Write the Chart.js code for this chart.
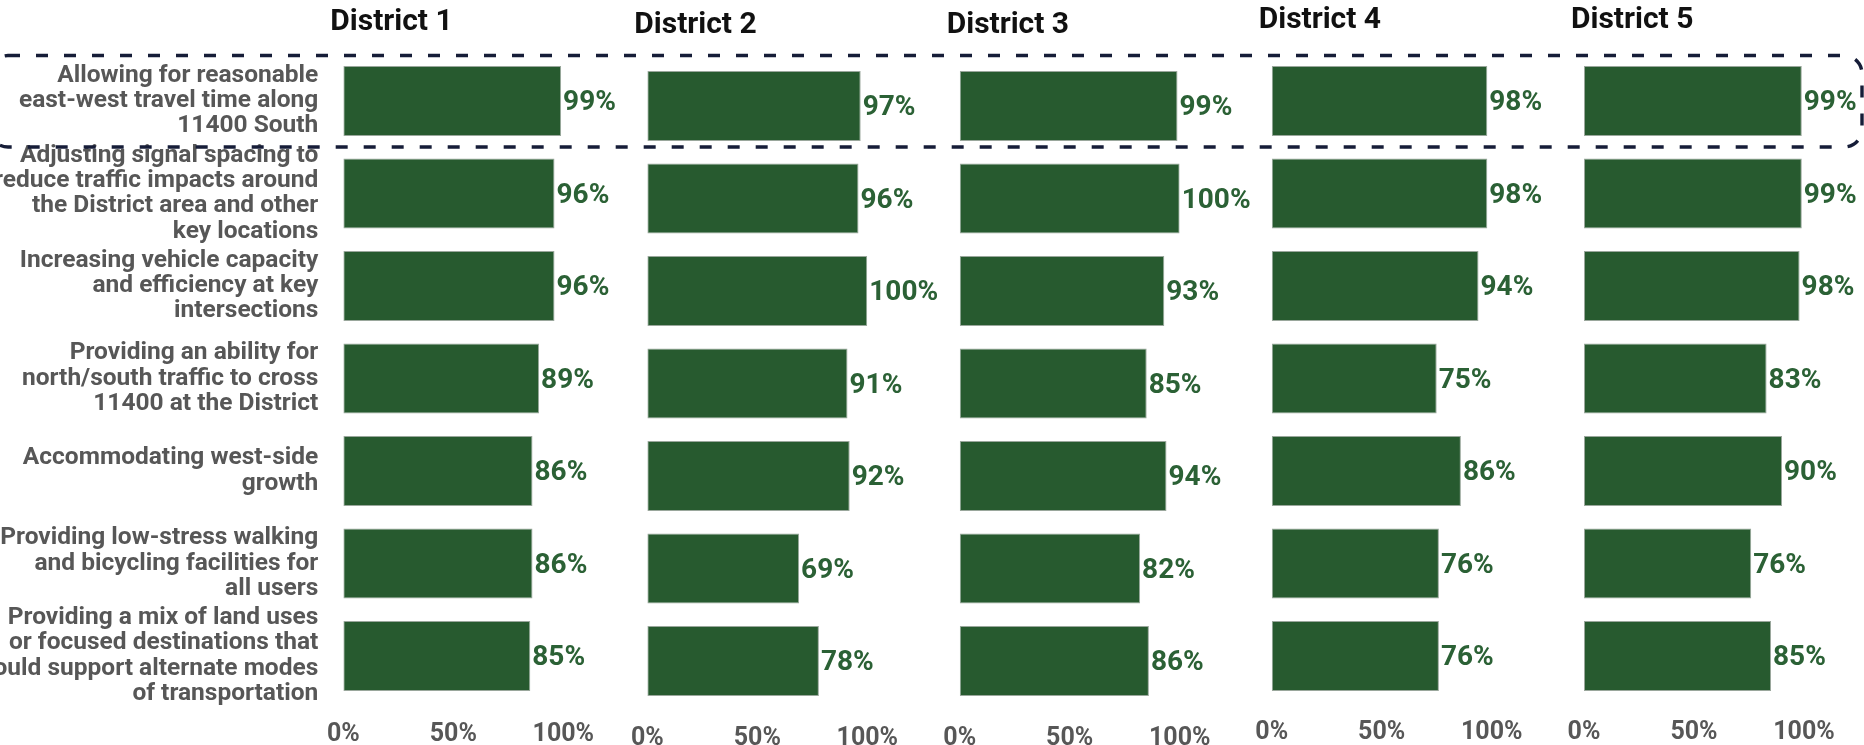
<!DOCTYPE html>
<html>
<head>
<meta charset="utf-8">
<title>District priorities</title>
<script src="https://cdn.jsdelivr.net/npm/chart.js@4.4.1/dist/chart.umd.min.js"></script>
<style>
  html, body { margin: 0; padding: 0; background: #fff; overflow: hidden; }
  #wrap { position: relative; width: 1864px; height: 745px; }
  #wrap canvas { position: absolute; left: 0; top: 0; }
</style>
</head>
<body>
<div id="wrap">
  <canvas id="d1" width="1864" height="745"></canvas>
  <canvas id="d2" width="1864" height="745"></canvas>
  <canvas id="d3" width="1864" height="745"></canvas>
  <canvas id="d4" width="1864" height="745"></canvas>
  <canvas id="d5" width="1864" height="745"></canvas>
</div>
<script>
// categories (wrapped the way they appear on the slide)
const categories = [
    ["Allowing for reasonable", "east-west travel time along", "11400 South"],
    ["Adjusting signal spacing to", "reduce traffic impacts around", "the District area and other", "key locations"],
    ["Increasing vehicle capacity", "and efficiency at key", "intersections"],
    ["Providing an ability for", "north/south traffic to cross", "11400 at the District"],
    ["Accommodating west-side", "growth"],
    ["Providing low-stress walking", "and bicycling facilities for", "all users"],
    ["Providing a mix of land uses", "or focused destinations that", "could support alternate modes", "of transportation"]
];

const districtNames = ["District 1", "District 2", "District 3", "District 4", "District 5"];

// percent of respondents, per district
const district1 = [99, 96, 96, 89, 86, 86, 85];
const district2 = [97, 96, 100, 91, 92, 69, 78];
const district3 = [99, 100, 93, 85, 94, 82, 86];
const district4 = [98, 98, 94, 75, 86, 76, 76];
const district5 = [99, 99, 98, 83, 90, 76, 85];

const tickValues = [0, 50, 100];

const BAR_GREEN = "#275a2f";
const TEXT_GREEN = "#2b6135";
const GREY = "#575757";
const FONT = "Roboto, 'Noto Sans', sans-serif";

// where each small chart sits on the page
const panels = [
    { id: "d1", name: districtNames[0], values: district1, left: 343.3, top: 54.75, titleY: 22.5, tickPad: 18.5 },
    { id: "d2", name: districtNames[1], values: district2, left: 647.3, top: 59.75, titleY: 25, tickPad: 18 },
    { id: "d3", name: districtNames[2], values: district3, left: 959.7, top: 59.75, titleY: 25, tickPad: 18 },
    { id: "d4", name: districtNames[3], values: district4, left: 1271.7, top: 54.75, titleY: 20.5, tickPad: 16.5 },
    { id: "d5", name: districtNames[4], values: district5, left: 1584, top: 54.75, titleY: 20.5, tickPad: 16.5 }
];
const PAGE_W = 1864;
const PAGE_H = 745;
const PANEL_W = 220;
const AREA_H = 647.5;

const valueLabels = {
    id: "valueLabels",
    afterDatasetsDraw(chart) {
        const ctx = chart.ctx;
        const ds = chart.data.datasets[0];
        ctx.save();
        ctx.font = "bold 28px " + FONT;
        ctx.fillStyle = TEXT_GREEN;
        ctx.textAlign = "left";
        ctx.textBaseline = "middle";
        chart.getDatasetMeta(0).data.forEach((bar, i) => {
            ctx.fillText(ds.data[i] + "%", bar.x + 2, bar.y + 2);
        });
        ctx.restore();
    }
};

const panelTitle = {
    id: "panelTitle",
    afterDraw(chart, args, opts) {
        const ctx = chart.ctx;
        ctx.save();
        ctx.font = "bold 30px " + FONT;
        ctx.fillStyle = "#111";
        ctx.textAlign = "left";
        ctx.textBaseline = "middle";
        ctx.fillText(opts.text, chart.chartArea.left - 13, opts.y);
        ctx.restore();
    }
};

// dashed outline around the first row, across all districts
const focusBox = {
    id: "focusBox",
    afterDraw(chart) {
        const ctx = chart.ctx;
        const y = chart.scales.y;
        const band = y.getPixelForValue(1) - y.getPixelForValue(0);
        const top = y.getPixelForValue(0) - band / 2 + 0.8;
        const h = band - 1;
        ctx.save();
        ctx.strokeStyle = "#161d38";
        ctx.lineWidth = 3.4;
        ctx.setLineDash([12, 16]);
        ctx.beginPath();
        ctx.roundRect(-10, top, PAGE_W + 8, h, 18);
        ctx.stroke();
        ctx.restore();
    }
};

panels.forEach((p, idx) => {
    const first = idx === 0;
    const plugins = [valueLabels, panelTitle];
    if (first) plugins.push(focusBox);
    const axisH = PAGE_H - p.top - AREA_H;

    new Chart(document.getElementById(p.id), {
        type: "bar",
        data: {
            labels: categories,
            datasets: [{
                data: p.values,
                backgroundColor: BAR_GREEN,
                borderColor: "#9aa79c",
                borderWidth: 1,
                borderSkipped: false,
                barPercentage: 0.757,
                categoryPercentage: 1
            }]
        },
        options: {
            indexAxis: "y",
            responsive: false,
            animation: false,
            events: [],
            layout: {
                padding: {
                    left: first ? 0 : p.left,
                    right: PAGE_W - p.left - PANEL_W,
                    top: p.top,
                    bottom: 0
                }
            },
            plugins: {
                legend: { display: false },
                tooltip: { enabled: false },
                panelTitle: { text: p.name, y: p.titleY }
            },
            scales: {
                x: {
                    min: 0,
                    max: 100,
                    afterBuildTicks: s => { s.ticks = tickValues.map(v => ({ value: v })); },
                    afterFit: s => { s.height = axisH; },
                    grid: { display: false, drawTicks: false },
                    border: { display: false },
                    ticks: {
                        padding: p.tickPad,
                        color: GREY,
                        font: { family: FONT, size: 25, weight: "bold", lineHeight: 1.1 },
                        maxRotation: 0,
                        callback: v => v + "%"
                    }
                },
                y: {
                    display: first,
                    afterFit: s => {
                        if (!first) return;
                        s.width = p.left;
                        // long wrapped labels should not push the plot area around
                        s.paddingTop = 0;
                        s.paddingBottom = 0;
                    },
                    grid: { display: false, drawTicks: false },
                    border: { display: false },
                    ticks: {
                        autoSkip: false,
                        padding: 25,
                        color: GREY,
                        font: { family: FONT, size: 24.5, weight: "bold", lineHeight: 1.035 }
                    }
                }
            }
        },
        plugins: plugins
    });
});
</script>
</body>
</html>
